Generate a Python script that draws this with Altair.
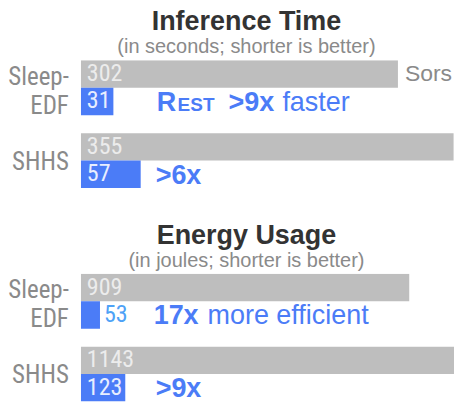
import altair as alt
import pandas as pd

groups = ["Sleep-EDF", "SHHS"]
models = ["Sors", "Rest"]
time_sors = [302, 355]
time_rest = [31, 57]
energy_sors = [909, 1143]
energy_rest = [53, 123]

W = 382
H = 128
TIME_MAX = 363
ENERGY_MAX = 1055

GRAY = "#bebebe"
BLUE = "#4b7cf7"
NARROW = "Liberation Sans Narrow, Roboto Condensed, Liberation Sans"
SANS = "Liberation Sans, Arial"


def frame(sors, rest):
    rows = []
    for g, s, r in zip(groups, sors, rest):
        rows.append({"group": g, "model": "Sors", "value": s})
        rows.append({"group": g, "model": "Rest", "value": r})
    return pd.DataFrame(rows)


time_df = frame(time_sors, time_rest)
energy_df = frame(energy_sors, energy_rest)
label_df = pd.DataFrame({"group": groups})

# annotation pieces: (group, text, weight, size, x-pixel in plot)
time_notes = pd.DataFrame([
    {"group": "Sleep-EDF", "model": "Rest", "text": "R", "weight": "bold", "size": 27, "px": 76},
    {"group": "Sleep-EDF", "model": "Rest", "text": "EST", "weight": "bold", "size": 19, "px": 97},
    {"group": "Sleep-EDF", "model": "Rest", "text": ">9x", "weight": "bold", "size": 27, "px": 148},
    {"group": "Sleep-EDF", "model": "Rest", "text": "faster", "weight": "normal", "size": 27, "px": 202},
    {"group": "SHHS", "model": "Rest", "text": ">6x", "weight": "bold", "size": 27, "px": 75},
])
energy_notes = pd.DataFrame([
    {"group": "Sleep-EDF", "model": "Rest", "text": "17x", "weight": "bold", "size": 27, "px": 73},
    {"group": "Sleep-EDF", "model": "Rest", "text": "more efficient", "weight": "normal", "size": 27, "px": 127},
    {"group": "SHHS", "model": "Rest", "text": ">9x", "weight": "bold", "size": 27, "px": 75},
])


def panel(df, notes, dmax, title, subtitle, show_sors):
    ysc = alt.Y("group:N", sort=groups, title=None,
                scale=alt.Scale(paddingInner=18 / 73, paddingOuter=0), axis=None)
    yoff = alt.YOffset("model:N", sort=models, scale=alt.Scale(paddingInner=0, paddingOuter=0))
    xsc = alt.X("value:Q", scale=alt.Scale(domain=[0, dmax], nice=False, zero=True), axis=None)

    base = alt.Chart(df).encode(y=ysc, yOffset=yoff)
    bars = base.mark_bar(clip=True).encode(
        x=xsc,
        color=alt.Color("model:N", scale=alt.Scale(domain=models, range=[GRAY, BLUE]), legend=None),
    )
    px_expr = f"datum.value * {W} / {dmax}"
    inside = base.transform_calculate(px=px_expr).transform_filter("datum.px > 28").mark_text(
        align="left", baseline="middle", dx=6, font=NARROW, fontSize=24
    ).encode(
        x=alt.value(0),
        text="value:Q",
        color=alt.Color("model:N", scale=alt.Scale(domain=models, range=["#ececec", "#e8eeff"]), legend=None),
    )
    outside = base.transform_calculate(px=px_expr).transform_filter("datum.px <= 28").mark_text(
        align="left", baseline="middle", dx=4, font=NARROW, fontSize=24, color="#4ea2f7"
    ).encode(x=xsc, text="value:Q")

    # category labels on the left
    lab = alt.Chart(label_df).encode(y=ysc, x=alt.value(-12))
    lab_two = lab.transform_filter("datum.group == 'Sleep-EDF'").transform_calculate(
        lines="['Sleep-', 'EDF']"
    ).mark_text(align="right", baseline="middle", dy=-11, lineHeight=29, font=NARROW,
                fontSize=25, color="#8a8a8a").encode(text="lines:N")
    lab_one = lab.transform_filter("datum.group != 'Sleep-EDF'").mark_text(
        align="right", baseline="middle", dy=1, font=NARROW, fontSize=25, color="#8a8a8a"
    ).encode(text="group:N")

    layers = [bars, inside, outside, lab_two, lab_one]
    if show_sors:
        sors = base.transform_filter("datum.model == 'Sors' && datum.group == 'Sleep-EDF'").mark_text(
            align="left", baseline="middle", dx=7, font=SANS, fontSize=23, color="#8a8a8a"
        ).encode(x=xsc, text="model:N")
        layers.append(sors)

    nb = alt.Chart(notes).encode(y=ysc, yOffset=yoff, x=alt.X("px:Q", scale=None), text="text:N")
    for w in ["bold", "normal"]:
        for s in sorted(notes["size"].unique()):
            sub = nb.transform_filter(f"datum.weight == '{w}' && datum.size == {s}").mark_text(
                align="left", baseline="alphabetic", dy=9.5, font=SANS, fontSize=int(s),
                fontWeight=w, color=BLUE
            )
            layers.append(sub)

    return alt.layer(*layers).resolve_scale(color="independent").properties(
        width=W, height=H,
        title=alt.TitleParams(text=title, subtitle=subtitle, font=SANS, fontSize=27, fontWeight="bold",
                              color="#333333", subtitleFont=SANS, subtitleFontSize=20,
                              subtitleColor="#8a8a8a", anchor="middle", dx=-25, offset=2,
                              subtitlePadding=1),
    )


top = panel(time_df, time_notes, TIME_MAX, "Inference Time", "(in seconds; shorter is better)", True)
bottom = panel(energy_df, energy_notes, ENERGY_MAX, "Energy Usage", "(in joules; shorter is better)", False)

chart = alt.vconcat(top, bottom, spacing=33).configure_view(stroke=None).properties(
    padding={"left": 0, "top": 0, "right": -8, "bottom": 0}
)

chart.save("out.html", embed_options={"renderer": "svg", "actions": False})
